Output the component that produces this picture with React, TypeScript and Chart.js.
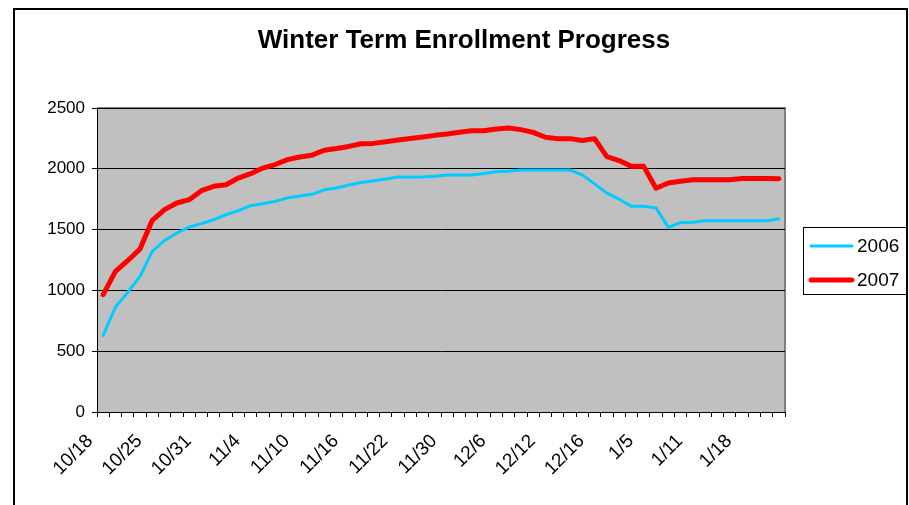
import React, { useEffect, useRef } from "react";
import { Chart, registerables } from "chart.js";

Chart.register(...registerables);

const chartTitle = "Winter Term Enrollment Progress";
const tickLabels = ["10/18", "10/25", "10/31", "11/4", "11/10", "11/16", "11/22", "11/30", "12/6", "12/12", "12/16", "1/5", "1/11", "1/18"];
const labelEvery = 4;
const seriesNames = ["2006", "2007"];
const series2006 = [
  630, 863, 984, 1115, 1321, 1411, 1472, 1521, 1549, 1581,
  1623, 1655, 1697, 1713, 1732, 1761, 1776, 1790, 1827, 1842,
  1867, 1888, 1902, 1916, 1933, 1933, 1933, 1938, 1949, 1949,
  1949, 1962, 1976, 1979, 1990, 1990, 1990, 1990, 1990, 1950,
  1876, 1800, 1750, 1691, 1691, 1679, 1518, 1557, 1560, 1573,
  1573, 1573, 1573, 1573, 1573, 1587,
];
const series2007 = [
  965, 1157, 1244, 1340, 1576, 1664, 1719, 1746, 1820, 1856,
  1869, 1924, 1960, 2006, 2035, 2075, 2097, 2112, 2153, 2167,
  2184, 2206, 2209, 2223, 2237, 2250, 2261, 2275, 2286, 2300,
  2313, 2313, 2327, 2335, 2322, 2300, 2259, 2248, 2248, 2232,
  2248, 2100, 2068, 2020, 2020, 1840, 1883, 1897, 1910, 1910,
  1910, 1910, 1921, 1921, 1921, 1918,
];
const yMin = 0;
const yMax = 2500;
const yStep = 500;

const categories = series2006.map((_, i) =>
  i % labelEvery === 0 ? tickLabels[i / labelEvery] ?? "" : ""
);

const FONT = "Arial, 'Liberation Sans', Helvetica, sans-serif";

const backgroundPlugin = {
  id: "excelBackground",
  beforeDraw(chart: any) {
    const { ctx, chartArea: a } = chart;
    ctx.save();
    ctx.fillStyle = "#ffffff";
    ctx.fillRect(0, 0, chart.width, chart.height);
    ctx.fillStyle = "#C0C0C0";
    ctx.fillRect(a.left, a.top, a.right - a.left, a.bottom - a.top);
    ctx.strokeStyle = "#808080";
    ctx.lineWidth = 2;
    ctx.beginPath();
    ctx.moveTo(a.left, a.top);
    ctx.lineTo(a.right, a.top);
    ctx.lineTo(a.right, a.bottom);
    ctx.stroke();
    ctx.strokeStyle = "#000000";
    ctx.lineWidth = 2;
    ctx.strokeRect(14, 9, 893, 600);
    ctx.fillStyle = "#000000";
    ctx.font = `bold 26px ${FONT}`;
    ctx.textAlign = "center";
    ctx.textBaseline = "middle";
    ctx.fillText(chartTitle, 464, 41);
    ctx.restore();
  },
};

const legendPlugin = {
  id: "excelLegend",
  afterDraw(chart: any) {
    const { ctx } = chart;
    const box = { x: 803, y: 227, w: 103, h: 67 };
    ctx.save();
    ctx.fillStyle = "#ffffff";
    ctx.fillRect(box.x, box.y, box.w, box.h);
    ctx.strokeStyle = "#000000";
    ctx.lineWidth = 1;
    ctx.strokeRect(box.x + 0.5, box.y + 0.5, box.w, box.h);
    ctx.font = `19px ${FONT}`;
    ctx.textBaseline = "middle";
    ctx.textAlign = "left";
    chart.data.datasets.forEach((ds: any, i: number) => {
      const y = box.y + 19 + i * 34;
      ctx.strokeStyle = ds.borderColor;
      ctx.lineWidth = ds.borderWidth;
      ctx.lineCap = "round";
      ctx.beginPath();
      ctx.moveTo(box.x + 8, y);
      ctx.lineTo(box.x + 49, y);
      ctx.stroke();
      ctx.fillStyle = "#000000";
      ctx.fillText(ds.label, box.x + 54, y + 1);
    });
    ctx.restore();
  },
};

export default function App() {
  const canvasRef = useRef<HTMLCanvasElement | null>(null);

  useEffect(() => {
    if (!canvasRef.current) return;
    const chart = new Chart(canvasRef.current, {
      type: "line",
      data: {
        labels: categories,
        datasets: [
          {
            label: seriesNames[0],
            data: series2006,
            borderColor: "#00CCFF",
            backgroundColor: "#00CCFF",
            borderWidth: 3,
            pointRadius: 0,
            tension: 0,
            borderJoinStyle: "round",
            borderCapStyle: "round",
          },
          {
            label: seriesNames[1],
            data: series2007,
            borderColor: "#FF0000",
            backgroundColor: "#FF0000",
            borderWidth: 5,
            pointRadius: 0,
            tension: 0,
            borderJoinStyle: "round",
            borderCapStyle: "round",
          },
        ],
      },
      options: {
        responsive: false,
        animation: false,
        events: [],
        layout: { padding: { left: 0, right: 124, top: 108, bottom: 0 } },
        plugins: {
          legend: { display: false },
          tooltip: { enabled: false },
          title: { display: false },
        },
        scales: {
          x: {
            type: "category",
            offset: true,
            afterFit: (s: any) => {
              s.height = 93;
            },
            border: { display: true, color: "#000000", width: 1 },
            grid: {
              offset: true,
              drawOnChartArea: false,
              drawTicks: true,
              tickLength: 5,
              color: "#000000",
            },
            ticks: {
              autoSkip: false,
              maxRotation: 45,
              minRotation: 45,
              color: "#000000",
              font: { family: FONT, size: 19 },
              padding: 13,
              labelOffset: -13,
            },
          },
          y: {
            min: yMin,
            max: yMax,
            afterFit: (s: any) => {
              s.width = 97;
            },
            border: { display: true, color: "#000000", width: 1 },
            grid: {
              color: "#000000",
              lineWidth: 1,
              drawTicks: true,
              tickLength: 5,
            },
            ticks: {
              stepSize: yStep,
              color: "#000000",
              font: { family: FONT, size: 17 },
              padding: 7,
              callback: (v: any) => String(v),
            },
          },
        },
      },
      plugins: [backgroundPlugin, legendPlugin],
    });
    return () => chart.destroy();
  }, []);

  return (
    <div style={{ position: "fixed", left: 0, top: 0, width: 909, height: 505 }}>
      <canvas ref={canvasRef} width={909} height={505} style={{ display: "block" }} />
    </div>
  );
}
